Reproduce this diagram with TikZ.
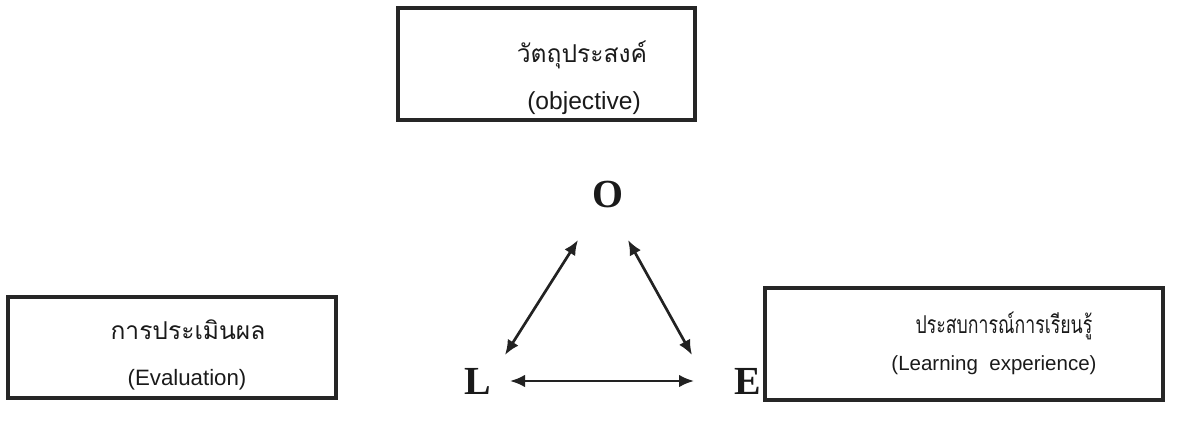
\documentclass[tikz,border=0pt]{standalone}
\usepackage{fontspec}
\setmainfont{Liberation Sans}
\newfontfamily\thaifont[Script=Thai]{Loma}
\newfontfamily\letterfont{Liberation Serif}
\usepackage{xcolor}
\usetikzlibrary{arrows.meta,positioning,calc}
\definecolor{cBox}{HTML}{262626}
\definecolor{cArrow}{HTML}{222222}
\definecolor{cText}{HTML}{1A1A1A}
\tikzset{
  topic/.style ={draw=cBox, line width=2.6pt, inner sep=0pt},
  thai/.style  ={font=\thaifont\fontsize{21}{25}\selectfont, text=cText, inner sep=0pt},
  eng/.style   ={font=\fontsize{19}{23}\selectfont, text=cText, inner sep=0pt},
  corner/.style={font=\letterfont\bfseries\fontsize{34}{40}\selectfont, text=cText, inner sep=0pt},
  link/.style  ={{Latex[length=4.5mm,width=3.8mm]}-{Latex[length=4.5mm,width=3.8mm]},
                 line width=2.3pt, draw=cArrow},
}

\begin{document}
\begin{tikzpicture}[x=0.3mm, y=-0.3mm]
  \useasboundingbox (0,0) rectangle (1184,435);
  % the three boxes
  \node[topic, minimum width=89.1mm, minimum height=33.6mm] (objBox) at (546.5,64) {};
  \node[topic, minimum width=98.4mm, minimum height=30.3mm] (evaBox) at (172,347.5) {};
  \node[topic, minimum width=119.4mm, minimum height=33.6mm] (leaBox) at (964,344) {};
  % box texts
  \node[thai] (objTh) at (582,55) {วัตถุประสงค์};
  \node[eng, font=\fontsize{21}{25}\selectfont] (objEn) at (584,103) {(objective)};
  \node[thai] (evaTh) at (188,330) {การประเมินผล};
  \node[eng]  (evaEn) at (187,380) {(Evaluation)};
  \node[thai] (leaTh) at (1004,326) {\scalebox{0.72}[1]{ประสบการณ์การเรียนรู้}};
  \node[eng, font=\fontsize{17.5}{21}\selectfont] (leaEn) at (994,365) {(Learning\ \ experience)};
  % O, L, E
  \node[corner] (O) at (608,195) {O};
  \node[corner] (L) at (478,381) {L};
  \node[corner] (E) at (748,381) {E};
  \draw[link] ($(O)+(-30,45)$) -- ($(L)+(27,-26)$);
  \draw[link] ($(O)+(20,45)$) -- ($(E)+(-56,-26)$);
  \draw[link] ($(L)+(32,0)$) -- ($(E)+(-54,0)$);
\end{tikzpicture}
\end{document}
